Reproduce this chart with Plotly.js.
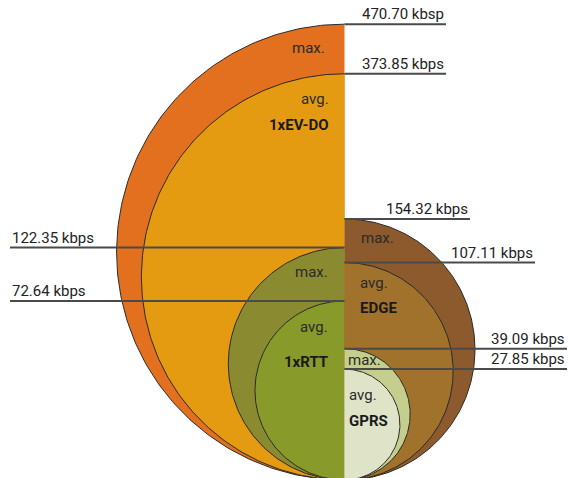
<!DOCTYPE html>
<html><head><meta charset="utf-8">
<script src="https://cdn.plot.ly/plotly-3.0.1.min.js"></script>
<style>html,body{margin:0;padding:0;background:#fff}</style>
</head><body><div id="chart" style="width:568px;height:478px"></div>
<script>
// ---- data ----
const technologies = ['1xEV-DO', '1xRTT', 'EDGE', 'GPRS'];
const sides = ['left', 'left', 'right', 'right'];
const maxKbps = [470.70, 122.35, 154.32, 39.09];
const avgKbps = [373.85, 72.64, 107.11, 27.85];
const maxLabels = ['470.70 kbsp', '122.35 kbps', '154.32 kbps', '39.09 kbps'];
const avgLabels = ['373.85 kbps', '72.64 kbps', '107.11 kbps', '27.85 kbps'];

// ---- styles / layout positions ----
const maxColors = ['#E2701E', '#8A8B30', '#8C5A2C', '#C6CE8E'];
const avgColors = ['#E49B12', '#879A2A', '#A0722C', '#DFE4C8'];
const maxLeaderEndPx = [446, 10, 470, 567];
const avgLeaderEndPx = [446, 10, 535, 567];
// inner label positions (px): [maxX, maxY, avgX, avgY, nameX, nameY]
const innerPos = [
  [327, 48, 331, 99, 331, 125],
  [330, 272, 330, 327, 330, 362],
  [359, 238, 358, 283, 358, 308],
  [346, 360, 347, 395, 347, 421]
];

const W = 568, H = 478, CX = 344.5, BOTTOM = 480, K = 21.01;
const px2x = p => (p - CX) / K;
const py2y = p => (BOTTOM - p) / K;

function semi(value, side) {
  const d = Math.sqrt(value), r = d / 2;
  const xs = [], ys = [];
  const n = 180;
  for (let i = 0; i <= n; i++) {
    const t = Math.PI / 2 + (side === 'left' ? 1 : -1) * Math.PI * i / n;
    xs.push(r * Math.cos(t));
    ys.push(r + r * Math.sin(t));
  }
  return {xs, ys};
}

const traces = [];
const order = [0, 1, 2, 3];
order.forEach(i => {
  [[maxKbps[i], maxColors[i]], [avgKbps[i], avgColors[i]]].forEach(([v, c]) => {
    const s = semi(v, sides[i]);
    traces.push({
      x: s.xs, y: s.ys, mode: 'lines', fill: 'toself', fillcolor: c,
      line: {color: '#2b2b2b', width: 1}, hoverinfo: 'skip', showlegend: false
    });
  });
});

const annotations = [];
// leader lines
order.forEach(i => {
  [[maxKbps[i], maxLeaderEndPx[i], maxLabels[i]], [avgKbps[i], avgLeaderEndPx[i], avgLabels[i]]].forEach(([v, endPx, lab]) => {
    const y = Math.sqrt(v);
    traces.push({
      x: [0, px2x(endPx)], y: [y, y], mode: 'lines',
      line: {color: '#4a4a4a', width: 2}, hoverinfo: 'skip', showlegend: false
    });
    annotations.push({
      x: px2x(endPx), y: y, xref: 'x', yref: 'y',
      xanchor: endPx > CX ? 'right' : 'left', yanchor: 'bottom', yshift: -1,
      text: lab, showarrow: false,
      font: {family: 'Roboto, sans-serif', size: 15, color: '#222'}
    });
  });
});

// inner labels
order.forEach(i => {
  const p = innerPos[i];
  const anchor = sides[i] === 'left' ? 'right' : 'left';
  annotations.push({x: px2x(p[0]), y: py2y(p[1]), xref: 'x', yref: 'y', xanchor: anchor, yanchor: 'middle',
    text: 'max.', showarrow: false, font: {family: 'Roboto, sans-serif', size: 15, color: '#2a2a2a'}});
  annotations.push({x: px2x(p[2]), y: py2y(p[3]), xref: 'x', yref: 'y', xanchor: anchor, yanchor: 'middle',
    text: 'avg.', showarrow: false, font: {family: 'Roboto, sans-serif', size: 15, color: '#2a2a2a'}});
  annotations.push({x: px2x(p[4]), y: py2y(p[5]), xref: 'x', yref: 'y', xanchor: anchor, yanchor: 'middle',
    text: '<b>' + technologies[i] + '</b>', showarrow: false, font: {family: 'Roboto, sans-serif', size: 15, color: '#1a1a1a'}});
});

const layout = {
  width: W, height: H,
  margin: {l: 0, r: 0, t: 0, b: 0, pad: 0},
  paper_bgcolor: '#fff', plot_bgcolor: '#fff',
  xaxis: {range: [px2x(0), px2x(W)], visible: false, fixedrange: true},
  yaxis: {range: [py2y(H), py2y(0)], visible: false, fixedrange: true},
  annotations: annotations,
  showlegend: false
};

Plotly.newPlot('chart', traces, layout, {staticPlot: true, displayModeBar: false});
</script>
</body></html>
